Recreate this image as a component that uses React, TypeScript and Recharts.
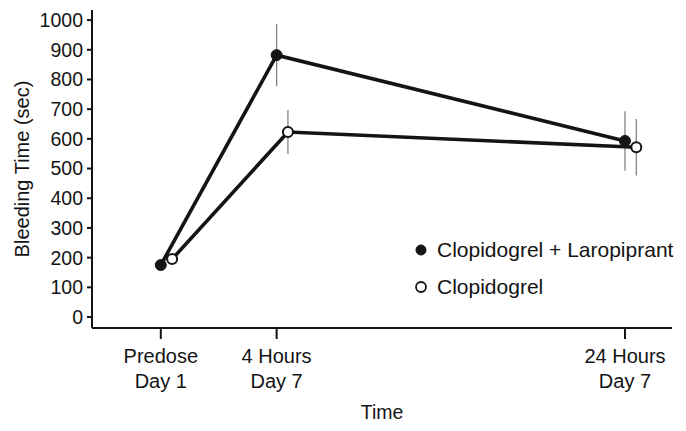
import { LineChart, Line, XAxis, YAxis, ErrorBar, Legend, Label } from "recharts";

const FONT = "'Liberation Sans', Arial, sans-serif";
const INK = "#141414";

// time points (hours relative to day-7 dose; predose placed before 0)
const timeHours = [-2.65, 4, 24];
const timeLabels = [
  ["Predose", "Day 1"],
  ["4 Hours", "Day 7"],
  ["24 Hours", "Day 7"],
];

const seriesNames = ["Clopidogrel + Laropiprant", "Clopidogrel"];
const comboMean = [175, 882, 593];
const comboErr = [12, 105, 100];
const clopMean = [195, 623, 572];
const clopErr = [12, 74, 95];

const yTicks = [0, 100, 200, 300, 400, 500, 600, 700, 800, 900, 1000];

// small horizontal dodge so the open circles sit beside the filled ones
const DODGE = 0.65;

const comboData = timeHours.map((t, i) => ({ t, y: comboMean[i], err: comboErr[i] }));
const clopData = timeHours.map((t, i) => ({ t: t + DODGE, y: clopMean[i], err: clopErr[i] }));

function TimeTick(props: any) {
  const { x, y, payload } = props;
  const idx = timeHours.indexOf(payload.value);
  const lines = idx >= 0 ? timeLabels[idx] : [String(payload.value)];
  return (
    <text x={x} y={y} textAnchor="middle" fill={INK} fontSize={20} fontFamily={FONT}>
      {lines.map((l, i) => (
        <tspan key={i} x={x} dy={i === 0 ? 22 : 25}>
          {l}
        </tspan>
      ))}
    </text>
  );
}

function LegendBox() {
  return (
    <div style={{ fontFamily: FONT, fontSize: 21, color: INK }}>
      {seriesNames.map((name, i) => (
        <div key={name} style={{ display: "flex", alignItems: "center", height: 37 }}>
          <svg width={14} height={14} style={{ marginRight: 9 }}>
            <circle
              cx={7}
              cy={7}
              r={5}
              fill={i === 0 ? INK : "#fff"}
              stroke={INK}
              strokeWidth={i === 0 ? 1 : 1.8}
            />
          </svg>
          <span>{name}</span>
        </div>
      ))}
    </div>
  );
}

export default function App() {
  return (
    <div style={{ position: "absolute", left: 0, top: 0, width: 686, height: 431, background: "#fff" }}>
      <LineChart width={686} height={431} margin={{ top: 10, right: 14, bottom: 23, left: 0 }}>
        <XAxis
          dataKey="t"
          type="number"
          domain={[-6.6, 26.7]}
          ticks={timeHours}
          allowDataOverflow
          height={80}
          tickSize={11}
          tickMargin={2}
          stroke={INK}
          strokeWidth={2}
          tickLine={{ stroke: INK, strokeWidth: 2 }}
          tick={<TimeTick />}
          interval={0}
        >
          <Label value="Time" position="insideBottom" offset={-11} fill={INK} fontSize={19.5} fontFamily={FONT} />
        </XAxis>
        <YAxis
          type="number"
          domain={[-37, 1034]}
          ticks={yTicks}
          interval={0}
          allowDataOverflow
          width={92}
          tickSize={5}
          tickMargin={4}
          stroke={INK}
          strokeWidth={2}
          tickLine={{ stroke: INK, strokeWidth: 2 }}
          tick={{ fill: INK, fontSize: 19.5, fontFamily: FONT }}
        >
          <Label
            value="Bleeding Time (sec)"
            angle={-90}
            position="insideLeft"
            offset={22}
            style={{ textAnchor: "middle", fontSize: 20 }}
            fill={INK}
            fontFamily={FONT}
          />
        </YAxis>
        <Legend
          layout="vertical"
          align="center"
          verticalAlign="middle"
          content={<LegendBox />}
          wrapperStyle={{ left: 414, top: 231, width: 272, height: 80 }}
        />
        <Line
          data={comboData}
          dataKey="y"
          name={seriesNames[0]}
          stroke={INK}
          strokeWidth={3.6}
          dot={{ r: 5.5, fill: INK, stroke: INK, strokeWidth: 1 }}
          isAnimationActive={false}
        >
          <ErrorBar dataKey="err" direction="y" width={0} stroke="#7a7a7a" strokeWidth={1.2} />
        </Line>
        <Line
          data={clopData}
          dataKey="y"
          name={seriesNames[1]}
          stroke={INK}
          strokeWidth={3.6}
          dot={{ r: 5, fill: "#fff", stroke: INK, strokeWidth: 2 }}
          isAnimationActive={false}
        >
          <ErrorBar dataKey="err" direction="y" width={0} stroke="#7a7a7a" strokeWidth={1.2} />
        </Line>
      </LineChart>
    </div>
  );
}
